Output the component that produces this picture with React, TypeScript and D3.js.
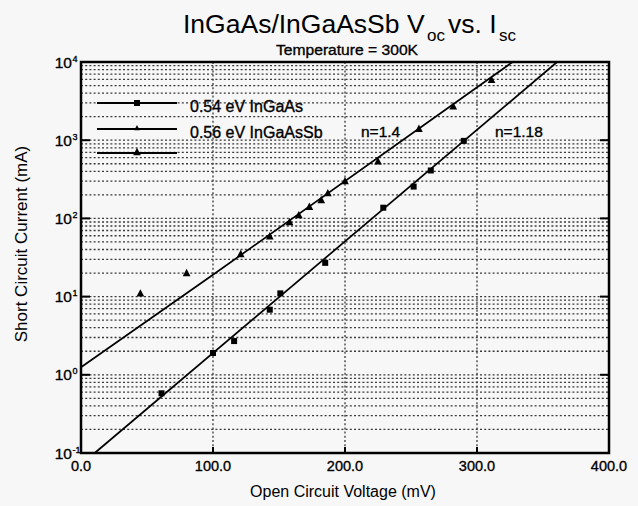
import * as d3 from 'd3';

const W = 638;
const H = 506;
const FONT = '"Liberation Sans", Arial, Helvetica, sans-serif';

// 0.54 eV InGaAs (squares)
const ingaasVoc = [61, 100, 116, 143, 151, 185, 229, 252, 265, 290];
const ingaasIsc = [0.58, 1.9, 2.7, 6.8, 11, 27, 137, 255, 410, 980];

// 0.56 eV InGaAsSb (triangles)
const sbVoc = [45, 80, 121, 143, 158, 165, 173, 182, 187, 200, 225, 256, 282, 311];
const sbIsc = [11, 20, 35, 59, 90, 110, 141, 172, 210, 300, 535, 1400, 2700, 5900];

// fitted diode lines
const fitIngaasVoc = [10.4, 360.7];
const fitIngaasIsc = [0.1, 10000];
const fitSbVoc = [0, 100, 327];
const fitSbIsc = [1.25, 19, 10000];

const xTicks = [0, 100, 200, 300, 400];
const xTickLabels = ['0.0', '100.0', '200.0', '300.0', '400.0'];
const yExponents = [-1, 0, 1, 2, 3, 4];
const gridMultipliers = [1, 2, 3, 4, 5, 6, 7, 8, 9];

const legendLabels = ['0.54 eV InGaAs', '0.56 eV InGaAsSb', ''];
const fitLabels = ['n=1.4', 'n=1.18'];

const M = { left: 81, right: 609, top: 62, bottom: 453 };

export default function App() {
  const x = d3.scaleLinear().domain([0, 400]).range([M.left, M.right]);
  const y = d3.scaleLog().domain([0.1, 10000]).range([M.bottom, M.top]);

  const line = d3
    .line<[number, number]>()
    .x(d => x(d[0]))
    .y(d => y(d[1]));

  const hGrid: number[] = [];
  yExponents.slice(0, -1).forEach(e => {
    gridMultipliers.forEach(m => {
      const v = m * Math.pow(10, e);
      if (v > 0.1) hGrid.push(v);
    });
  });

  const tri = (cx: number, cy: number, s: number) =>
    `M${cx},${cy - s * 0.6}L${cx + s * 0.55},${cy + s * 0.45}L${cx - s * 0.55},${cy + s * 0.45}Z`;

  const legendY = [103, 129, 153];
  // scanned text looks heavier than plain regular weight
  const ink = { stroke: '#000', strokeWidth: 0.35 };

  return (
    <svg
      width={W}
      height={H}
      style={{ position: 'absolute', left: 0, top: 0, background: '#f7f7f7' }}
      fontFamily={FONT}
    >
      {/* title */}
      <text x={183} y={33} fontSize={26.5}>InGaAs/InGaAsSb V</text>
      <text x={427} y={41} fontSize={17}>oc</text>
      <text x={448} y={33} fontSize={26.5}>vs. I</text>
      <text x={499} y={41} fontSize={17}>sc</text>
      <text x={276} y={55} fontSize={15.5} textLength={142} lengthAdjust="spacingAndGlyphs" {...ink}>
        Temperature = 300K
      </text>

      {/* grid */}
      <g stroke="#3a3a3a" strokeWidth={1.3} strokeDasharray="2,2.2">
        {hGrid.map(v => (
          <line key={'h' + v} x1={M.left} x2={M.right} y1={y(v)} y2={y(v)} />
        ))}
        {xTicks.slice(1, -1).map(v => (
          <line key={'v' + v} x1={x(v)} x2={x(v)} y1={M.top} y2={M.bottom} />
        ))}
      </g>

      {/* frame and ticks */}
      <rect
        x={M.left}
        y={M.top}
        width={M.right - M.left}
        height={M.bottom - M.top}
        fill="none"
        stroke="#000"
        strokeWidth={2.5}
      />
      <g stroke="#000" strokeWidth={2}>
        {yExponents.map(e => (
          <g key={'yt' + e}>
            <line x1={M.left} x2={M.left + 9} y1={y(Math.pow(10, e))} y2={y(Math.pow(10, e))} />
            <line x1={M.right} x2={M.right - 9} y1={y(Math.pow(10, e))} y2={y(Math.pow(10, e))} />
          </g>
        ))}
        {xTicks.map(v => (
          <line key={'xt' + v} x1={x(v)} x2={x(v)} y1={M.bottom} y2={M.bottom - 6} />
        ))}
      </g>

      {/* y tick labels */}
      {yExponents.map(e => (
        <g key={'yl' + e} {...ink}>
          <text x={72} y={y(Math.pow(10, e)) + 5.5} fontSize={15.5} textAnchor="end">10</text>
          <text x={72.5} y={y(Math.pow(10, e)) - 0.5} fontSize={9}>{String(e)}</text>
        </g>
      ))}

      {/* x tick labels */}
      {xTicks.map((v, i) => (
        <text key={'xl' + v} x={x(v)} y={471} fontSize={14.5} textAnchor="middle" {...ink}>
          {xTickLabels[i]}
        </text>
      ))}

      {/* axis titles */}
      <text x={343} y={497} fontSize={16} textAnchor="middle">Open Circuit Voltage (mV)</text>
      <text
        transform={`translate(27,244) rotate(-90)`}
        fontSize={17}
        textAnchor="middle"
      >
        Short Circuit Current (mA)
      </text>

      {/* fit lines */}
      <path
        d={line(fitIngaasVoc.map((v, i) => [v, fitIngaasIsc[i]] as [number, number])) || ''}
        fill="none"
        stroke="#000"
        strokeWidth={1.7}
      />
      <path
        d={line(fitSbVoc.map((v, i) => [v, fitSbIsc[i]] as [number, number])) || ''}
        fill="none"
        stroke="#000"
        strokeWidth={1.7}
      />

      {/* data markers */}
      {ingaasVoc.map((v, i) => (
        <rect
          key={'sq' + i}
          x={x(v) - 3}
          y={y(ingaasIsc[i]) - 3}
          width={6}
          height={6}
          fill="#000"
        />
      ))}
      {sbVoc.map((v, i) => (
        <path key={'tr' + i} d={tri(x(v), y(sbIsc[i]), 7)} fill="#000" />
      ))}

      {/* fit annotations */}
      <text x={361} y={137} fontSize={15.5} {...ink}>{fitLabels[0]}</text>
      <text x={495} y={137} fontSize={15.5} {...ink}>{fitLabels[1]}</text>

      {/* legend */}
      {legendLabels.map((lab, i) => (
        <g key={'lg' + i}>
          <line x1={97} x2={177} y1={legendY[i]} y2={legendY[i]} stroke="#000" strokeWidth={1.8} />
          {i === 0 ? (
            <rect x={134} y={legendY[i] - 3} width={6} height={6} fill="#000" />
          ) : (
            <path d={tri(137, legendY[i] - 1, i === 1 ? 5 : 7)} fill="#000" />
          )}
          {lab && (
            <text x={190} y={legendY[i] + 9} fontSize={16} {...ink}>{lab}</text>
          )}
        </g>
      ))}
    </svg>
  );
}
